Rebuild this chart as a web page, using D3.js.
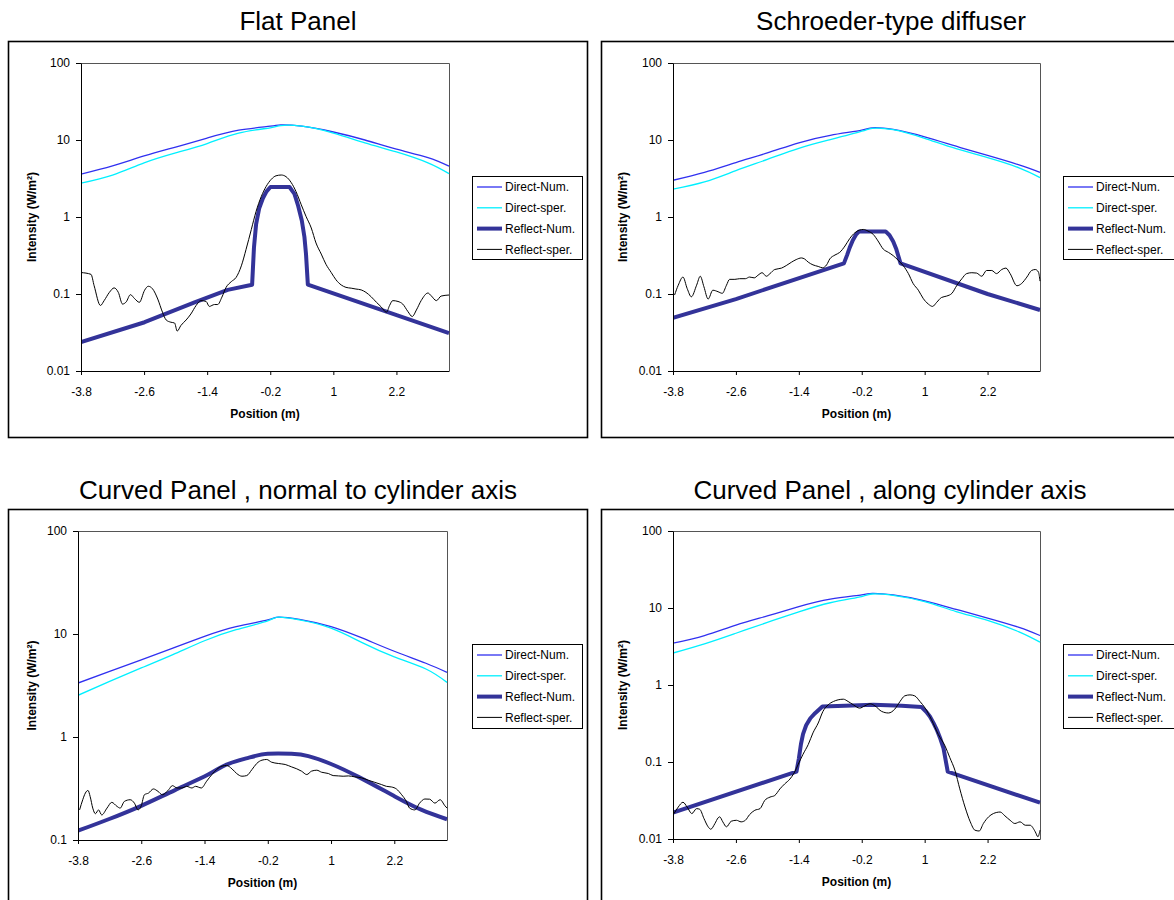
<!DOCTYPE html>
<html><head><meta charset="utf-8">
<script src="https://cdn.jsdelivr.net/npm/d3@7"></script>
<style>
body{margin:0;background:#fff}
svg{display:block}
text{font-family:"Liberation Sans",Arial,Helvetica,sans-serif}
</style>
</head><body>
<svg id="c" width="1174" height="900"></svg>
<script>
// ---------------- DATA ----------------
const titles = ["Flat Panel", "Schroeder-type diffuser",
  "Curved Panel , normal to cylinder axis", "Curved Panel , along cylinder axis"];
const seriesNames = ["Direct-Num.", "Direct-sper.", "Reflect-Num.", "Reflect-sper."];
const xTitle = "Position (m)";
const yTitle = "Intensity (W/m²)";
const xTicks = [-3.8, -2.6, -1.4, -0.2, 1, 2.2];
const yTicks4 = [0.01, 0.1, 1, 10, 100];
const yTicks3 = [0.1, 1, 10, 100];

// Direct field, sampled positions (m)
const directX = [-3.8, -3.2, -2.6, -2.0, -1.4, -0.8, -0.2, 0.0, 0.4, 1.0, 1.6, 2.2, 2.8, 3.2];
const flatDirectNum   = [3.6, 4.6, 6.2, 8.1, 10.6, 13.4, 15.1, 15.7, 15.1, 12.7, 10.0, 7.6, 5.9, 4.57];
const flatDirectSper  = [2.75, 3.5, 5.05, 6.8, 9.0, 12.3, 14.4, 15.4, 15.1, 12.3, 9.2, 7.0, 5.05, 3.66];
const schDirectNum    = [3.0, 3.8, 5.1, 6.8, 9.2, 11.5, 13.4, 14.4, 13.7, 11.0, 8.3, 6.3, 4.75, 3.8];
const schDirectSper   = [2.3, 2.86, 4.0, 5.6, 7.8, 10.1, 13.0, 14.2, 13.6, 10.5, 7.7, 5.9, 4.35, 3.25];
const normDirectNum   = [3.34, 4.33, 5.6, 7.3, 9.5, 11.8, 13.7, 14.6, 13.9, 11.8, 9.1, 6.8, 5.2, 4.24];
const normDirectSper  = [2.54, 3.47, 4.68, 6.3, 8.6, 11.0, 13.4, 14.6, 13.7, 11.4, 8.2, 6.0, 4.57, 3.39];
const alongDirectNum  = [3.49, 4.39, 6.0, 7.9, 10.4, 13.0, 14.8, 15.5, 14.8, 12.4, 9.6, 7.4, 5.6, 4.39];
const alongDirectSper = [2.6, 3.42, 4.7, 6.5, 8.9, 11.7, 14.1, 15.2, 14.6, 12.1, 9.0, 6.9, 4.9, 3.6];

// Reflected field, numerical model [position, intensity]
const flatReflectNum = [[-3.8,0.0238],[-2.59,0.043],[-1.64,0.078],[-1.01,0.113],[-0.545,0.132],[-0.51,0.40],[-0.47,0.80],[-0.41,1.30],[-0.34,1.75],[-0.27,2.15],[-0.196,2.45],[0.166,2.45],[0.26,2.0],[0.33,1.4],[0.40,0.90],[0.45,0.55],[0.48,0.33],[0.515,0.132],[2.01,0.059],[3.2,0.031]];
const schReflectNum = [[-3.8,0.049],[-2.6,0.086],[-0.54,0.25],[-0.48,0.32],[-0.43,0.40],[-0.37,0.50],[-0.31,0.59],[-0.25,0.65],[0.255,0.65],[0.33,0.58],[0.40,0.48],[0.46,0.38],[0.54,0.25],[2.2,0.10],[3.2,0.062]];
const normReflectNum = [[-3.8,0.123],[-3.22,0.159],[-2.59,0.216],[-1.96,0.305],[-1.33,0.432],[-0.98,0.541],[-0.57,0.628],[-0.2,0.687],[0.25,0.687],[0.57,0.652],[1.0,0.547],[1.52,0.41],[2.21,0.265],[2.72,0.196],[3.2,0.159]];
const alongReflectNum = [[-3.8,0.022],[-1.445,0.0748],[-1.40,0.11],[-1.36,0.17],[-1.32,0.23],[-1.26,0.30],[-1.18,0.37],[-1.09,0.43],[-0.95,0.527],[-0.52,0.537],[0.02,0.553],[0.56,0.537],[0.94,0.517],[1.03,0.45],[1.1,0.39],[1.17,0.32],[1.23,0.264],[1.30,0.20],[1.36,0.15],[1.44,0.0748],[3.2,0.0296]];

// Reflected field, measurement [position, intensity]
const flatReflectSper = [[-3.80,0.19],[-3.61,0.18],[-3.55,0.128],[-3.43,0.071],[-3.36,0.082],[-3.26,0.105],[-3.17,0.12],[-3.09,0.105],[-3.01,0.074],[-2.94,0.079],[-2.86,0.098],[-2.78,0.087],[-2.69,0.078],[-2.59,0.112],[-2.52,0.126],[-2.44,0.117],[-2.34,0.086],[-2.25,0.058],[-2.18,0.046],[-2.09,0.043],[-2.02,0.042],[-1.97,0.033],[-1.90,0.039],[-1.80,0.046],[-1.71,0.055],[-1.61,0.071],[-1.52,0.082],[-1.42,0.080],[-1.36,0.069],[-1.26,0.073],[-1.20,0.073],[-1.12,0.091],[-1.04,0.122],[-0.94,0.145],[-0.85,0.164],[-0.75,0.232],[-0.66,0.38],[-0.56,0.69],[-0.47,1.18],[-0.37,1.85],[-0.28,2.48],[-0.18,3.09],[-0.09,3.43],[0.01,3.51],[0.10,3.34],[0.20,2.79],[0.29,2.14],[0.39,1.44],[0.48,1.02],[0.58,0.72],[0.67,0.46],[0.77,0.33],[0.86,0.243],[0.96,0.19],[1.05,0.153],[1.15,0.131],[1.24,0.122],[1.34,0.119],[1.43,0.116],[1.53,0.113],[1.62,0.105],[1.72,0.092],[1.82,0.078],[1.91,0.068],[2.01,0.058],[2.07,0.071],[2.13,0.082],[2.23,0.080],[2.32,0.074],[2.42,0.059],[2.50,0.051],[2.58,0.062],[2.67,0.082],[2.80,0.103],[2.86,0.095],[2.96,0.082],[3.05,0.094],[3.20,0.097]];
const schReflectSper = [[-3.77,0.097],[-3.70,0.130],[-3.61,0.166],[-3.53,0.118],[-3.45,0.092],[-3.35,0.130],[-3.28,0.170],[-3.21,0.124],[-3.13,0.086],[-3.04,0.112],[-2.94,0.107],[-2.86,0.102],[-2.78,0.130],[-2.72,0.155],[-2.62,0.155],[-2.53,0.158],[-2.42,0.158],[-2.34,0.166],[-2.25,0.162],[-2.18,0.175],[-2.10,0.189],[-2.02,0.170],[-1.95,0.184],[-1.86,0.208],[-1.73,0.217],[-1.64,0.234],[-1.54,0.259],[-1.45,0.280],[-1.35,0.294],[-1.29,0.285],[-1.22,0.259],[-1.13,0.239],[-1.03,0.228],[-0.95,0.219],[-0.87,0.239],[-0.81,0.285],[-0.71,0.321],[-0.62,0.347],[-0.52,0.42],[-0.43,0.524],[-0.33,0.625],[-0.24,0.676],[-0.17,0.689],[-0.08,0.656],[0.02,0.594],[0.11,0.489],[0.21,0.383],[0.31,0.347],[0.40,0.315],[0.50,0.272],[0.59,0.234],[0.69,0.184],[0.78,0.137],[0.88,0.112],[0.97,0.088],[1.07,0.074],[1.15,0.069],[1.23,0.078],[1.32,0.090],[1.42,0.094],[1.52,0.102],[1.61,0.128],[1.71,0.158],[1.80,0.184],[1.90,0.189],[1.99,0.187],[2.09,0.170],[2.18,0.202],[2.28,0.202],[2.37,0.184],[2.47,0.208],[2.55,0.217],[2.63,0.184],[2.76,0.128],[2.85,0.137],[2.95,0.166],[3.04,0.202],[3.11,0.208],[3.17,0.193],[3.20,0.147]];
const normReflectSper = [[-3.77,0.196],[-3.71,0.246],[-3.66,0.286],[-3.61,0.303],[-3.57,0.265],[-3.52,0.204],[-3.47,0.180],[-3.41,0.196],[-3.35,0.175],[-3.25,0.204],[-3.16,0.232],[-3.06,0.212],[-3.00,0.204],[-2.92,0.237],[-2.81,0.246],[-2.73,0.228],[-2.66,0.196],[-2.60,0.215],[-2.54,0.275],[-2.46,0.286],[-2.37,0.313],[-2.28,0.296],[-2.20,0.275],[-2.08,0.308],[-2.01,0.337],[-1.92,0.320],[-1.83,0.320],[-1.74,0.332],[-1.64,0.320],[-1.57,0.332],[-1.46,0.320],[-1.36,0.372],[-1.26,0.432],[-1.17,0.483],[-1.07,0.521],[-0.98,0.529],[-0.88,0.491],[-0.79,0.442],[-0.69,0.416],[-0.60,0.422],[-0.50,0.483],[-0.41,0.553],[-0.31,0.596],[-0.22,0.605],[-0.13,0.570],[0.00,0.553],[0.13,0.541],[0.25,0.513],[0.35,0.491],[0.44,0.466],[0.54,0.432],[0.63,0.466],[0.73,0.476],[0.82,0.455],[0.95,0.442],[1.04,0.422],[1.14,0.419],[1.23,0.416],[1.33,0.419],[1.45,0.41],[1.58,0.401],[1.71,0.380],[1.83,0.363],[1.96,0.345],[2.05,0.332],[2.15,0.327],[2.24,0.313],[2.34,0.275],[2.43,0.237],[2.49,0.204],[2.59,0.196],[2.68,0.228],[2.78,0.25],[2.87,0.249],[2.97,0.228],[3.07,0.246],[3.16,0.215],[3.20,0.204]];
const alongReflectSper = [[-3.78,0.0214],[-3.70,0.026],[-3.61,0.030],[-3.53,0.026],[-3.44,0.0214],[-3.35,0.0248],[-3.29,0.0243],[-3.21,0.0185],[-3.13,0.0144],[-3.08,0.0134],[-3.00,0.0159],[-2.94,0.0188],[-2.91,0.0194],[-2.85,0.0167],[-2.78,0.0144],[-2.69,0.017],[-2.59,0.0175],[-2.50,0.0167],[-2.42,0.0175],[-2.34,0.0207],[-2.24,0.0236],[-2.14,0.0248],[-2.05,0.0317],[-1.95,0.035],[-1.86,0.0367],[-1.76,0.0448],[-1.67,0.0519],[-1.57,0.060],[-1.49,0.072],[-1.41,0.0938],[-1.32,0.126],[-1.22,0.169],[-1.13,0.239],[-1.03,0.321],[-0.94,0.454],[-0.84,0.553],[-0.74,0.611],[-0.65,0.642],[-0.55,0.654],[-0.46,0.611],[-0.36,0.553],[-0.24,0.501],[-0.14,0.537],[-0.04,0.57],[0.05,0.537],[0.18,0.454],[0.31,0.433],[0.43,0.486],[0.53,0.611],[0.62,0.723],[0.72,0.744],[0.81,0.723],[0.91,0.611],[1.01,0.501],[1.13,0.355],[1.26,0.228],[1.39,0.161],[1.48,0.114],[1.58,0.077],[1.67,0.0448],[1.77,0.026],[1.87,0.0167],[1.96,0.013],[2.04,0.0127],[2.12,0.0159],[2.22,0.0194],[2.31,0.0214],[2.44,0.0224],[2.53,0.020],[2.63,0.0175],[2.72,0.0159],[2.82,0.0167],[2.92,0.0151],[3.01,0.0151],[3.11,0.0124],[3.16,0.0107],[3.20,0.013]];

// ---------------- LAYOUT / STYLE ----------------
const panels = [
  {title: titles[0], dn: flatDirectNum, ds: flatDirectSper, rn: flatReflectNum, rs: flatReflectSper, yTicks: yTicks4},
  {title: titles[1], dn: schDirectNum, ds: schDirectSper, rn: schReflectNum, rs: schReflectSper, yTicks: yTicks4},
  {title: titles[2], dn: normDirectNum, ds: normDirectSper, rn: normReflectNum, rs: normReflectSper, yTicks: yTicks3},
  {title: titles[3], dn: alongDirectNum, ds: alongDirectSper, rn: alongReflectNum, rs: alongReflectSper, yTicks: yTicks4}
];
const layouts = [
  {frame:[8,41,579,396], plot:[81,63,449,371], title:[298,30], legend:[472,176,110,83], yLabX:32, xLabY:414, rnSmooth:false},
  {frame:[601,41,600,396], plot:[673,63,1040,371], title:[891,30], legend:[1063,176,120,83], yLabX:623, xLabY:414, rnSmooth:false},
  {frame:[8,509,579,420], plot:[78,531,447,840], title:[298,499], legend:[472,644,110,84], yLabX:32, xLabY:883, rnSmooth:true},
  {frame:[601,509,600,420], plot:[673,531,1040,839], title:[890,499], legend:[1063,644,120,84], yLabX:623, xLabY:882, rnSmooth:false}
];
const lineStyles = [
  {stroke:"#3030f0", width:1.3},
  {stroke:"#00f0ff", width:1.3},
  {stroke:"#333399", width:4},
  {stroke:"#000000", width:1}
];

const svg = d3.select("#c");
svg.append("rect").attr("width",1174).attr("height",900).attr("fill","#fff");

panels.forEach((p, i) => {
  const L = layouts[i];
  const g = svg.append("g");
  const [px0, py0, px1, py1] = L.plot;

  g.append("rect").attr("x", L.frame[0]+0.5).attr("y", L.frame[1]+0.5)
    .attr("width", L.frame[2]).attr("height", L.frame[3])
    .attr("fill", "none").attr("stroke", "#000").attr("stroke-width", 1.6);

  g.append("text").attr("x", L.title[0]).attr("y", L.title[1])
    .attr("text-anchor", "middle").attr("font-size", 26).attr("fill", "#000").text(p.title);

  const x = d3.scaleLinear().domain([-3.8, 3.2]).range([px0, px1]);
  const y = d3.scaleLog().domain([p.yTicks[0], 100]).range([py1, py0]);

  g.append("path").attr("d", `M${px0},${py0+0.5}H${px1+0.5}V${py1}`)
    .attr("fill","none").attr("stroke","#555").attr("stroke-width",1);

  const clipId = "clip" + i;
  svg.append("clipPath").attr("id", clipId).append("rect")
    .attr("x", px0).attr("y", py0 - 2).attr("width", px1 - px0 + 1).attr("height", py1 - py0 + 2);

  const mk = c => d3.line().x(d => x(d[0])).y(d => y(d[1])).curve(c);
  const curves = [d3.curveNatural, d3.curveNatural,
    L.rnSmooth ? d3.curveNatural : d3.curveLinear, d3.curveMonotoneX];
  const series = [
    directX.map((xv, k) => [xv, p.dn[k]]),
    directX.map((xv, k) => [xv, p.ds[k]]),
    p.rn,
    p.rs
  ];
  const lg = g.append("g").attr("clip-path", `url(#${clipId})`);
  series.forEach((s, k) => {
    lg.append("path").datum(s).attr("d", mk(curves[k]))
      .attr("fill", "none").attr("stroke", lineStyles[k].stroke)
      .attr("stroke-width", lineStyles[k].width).attr("stroke-linejoin", "round");
  });

  const ax = g.append("g").attr("transform", `translate(${px0},0)`)
    .call(d3.axisLeft(y).tickValues(p.yTicks).tickFormat(d => String(d)).tickSize(5).tickSizeOuter(0).tickPadding(6));
  const bx = g.append("g").attr("transform", `translate(0,${py1})`)
    .call(d3.axisBottom(x).tickValues(xTicks).tickFormat(d => String(d)).tickSize(4).tickSizeOuter(0).tickPadding(12));
  [ax, bx].forEach(a => {
    a.attr("font-size", 12).attr("font-family", '"Liberation Sans",Arial,sans-serif');
    a.selectAll("path.domain").attr("stroke", "#000");
    a.selectAll("line").attr("stroke", "#000");
    a.selectAll("text").attr("fill", "#000");
  });

  g.append("text").attr("x", (px0 + px1) / 2).attr("y", L.xLabY + 4)
    .attr("text-anchor", "middle").attr("font-size", 12).attr("font-weight", "bold").text(xTitle);
  g.append("text").attr("transform", `translate(${L.yLabX + 4},${(py0 + py1) / 2}) rotate(-90)`)
    .attr("text-anchor", "middle").attr("font-size", 12).attr("font-weight", "bold").text(yTitle);

  const [lx, ly, lw, lh] = L.legend;
  const leg = g.append("g");
  leg.append("rect").attr("x", lx + 0.5).attr("y", ly + 0.5).attr("width", lw).attr("height", lh)
    .attr("fill", "#fff").attr("stroke", "#000").attr("stroke-width", 1);
  seriesNames.forEach((name, k) => {
    const yy = ly + 11 + k * 20.8;
    leg.append("line").attr("x1", lx + 5).attr("x2", lx + 30).attr("y1", yy).attr("y2", yy)
      .attr("stroke", lineStyles[k].stroke).attr("stroke-width", lineStyles[k].width);
    leg.append("text").attr("x", lx + 33).attr("y", yy + 4.3).attr("font-size", 12).attr("fill", "#000").text(name);
  });
});
</script>
</body></html>
